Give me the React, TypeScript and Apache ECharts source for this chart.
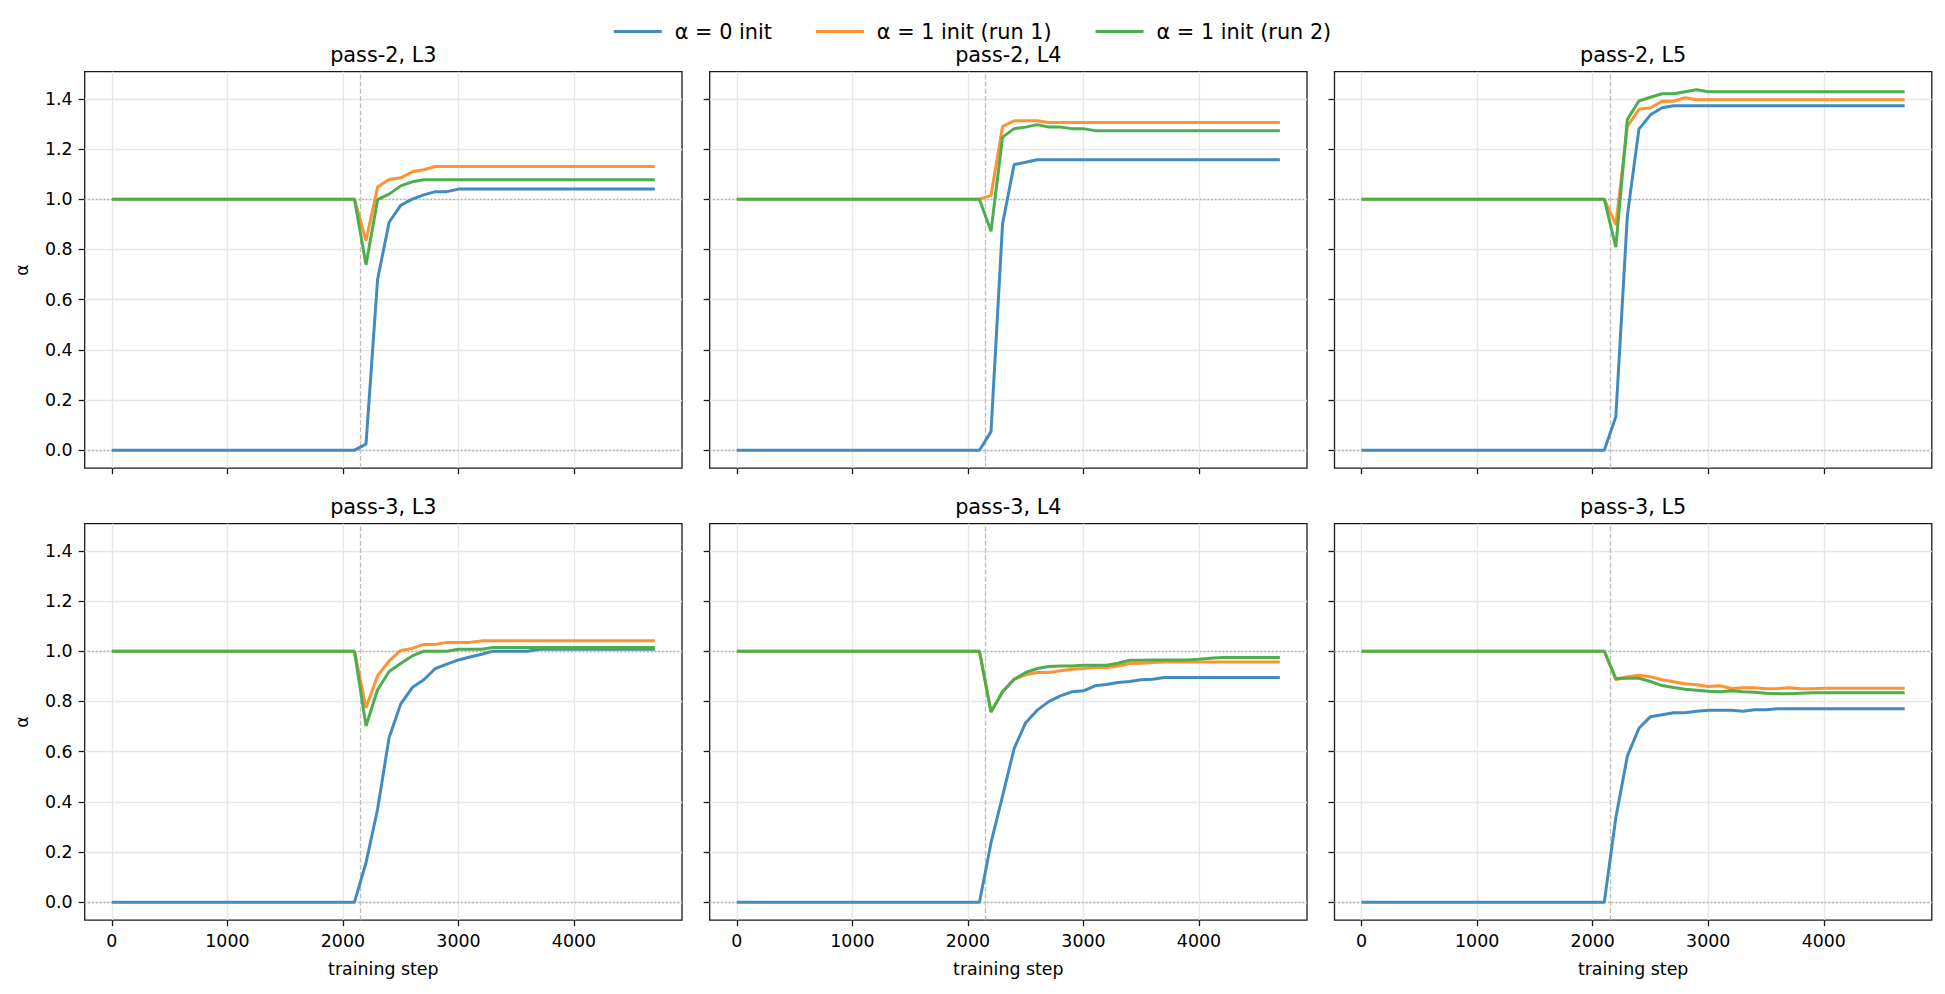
import React, { useEffect, useRef } from "react";
import * as echarts from "echarts";

// ---------------- data ----------------
const STEPS = [
  0, 100, 200, 300, 400, 500, 600, 700, 800, 900, 1000, 1100, 1200, 1300, 1400, 1500,
  1600, 1700, 1800, 1900, 2000, 2100, 2200, 2300, 2400, 2500, 2600, 2700, 2800, 2900,
  3000, 3100, 3200, 3300, 3400, 3500, 3600, 3700, 3800, 3900, 4000, 4100, 4200, 4300,
  4400, 4500, 4600, 4700,
];

const SERIES_NAMES = ["α = 0 init", "α = 1 init (run 1)", "α = 1 init (run 2)"];
const PANEL_TITLES = ["pass-2, L3", "pass-2, L4", "pass-2, L5", "pass-3, L3", "pass-3, L4", "pass-3, L5"];
const X_TICKS = [0, 1000, 2000, 3000, 4000];
const Y_TICKS = [0, 0.2, 0.4, 0.6, 0.8, 1.0, 1.2, 1.4];
const X_LABEL = "training step";
const Y_LABEL = "α";
const SWITCH_STEP = 2150;
const REF_LEVELS = [0, 1];

// pass-2, L3
const P2L3_A0 = [
  0, 0, 0, 0, 0, 0, 0, 0, 0, 0, 0, 0, 0, 0, 0, 0, 0, 0, 0, 0, 0, 0,
  0.024, 0.68, 0.908, 0.975, 1.0, 1.017, 1.03, 1.03, 1.04,
  1.04, 1.04, 1.04, 1.04, 1.04, 1.04, 1.04, 1.04, 1.04, 1.04, 1.04, 1.04, 1.04, 1.04, 1.04, 1.04, 1.04,
];
const P2L3_R1 = [
  1, 1, 1, 1, 1, 1, 1, 1, 1, 1, 1, 1, 1, 1, 1, 1, 1, 1, 1, 1, 1, 1,
  0.835, 1.048, 1.078, 1.085, 1.109, 1.117, 1.13,
  1.13, 1.13, 1.13, 1.13, 1.13, 1.13, 1.13, 1.13, 1.13, 1.13, 1.13, 1.13, 1.13, 1.13, 1.13, 1.13, 1.13, 1.13, 1.13,
];
const P2L3_R2 = [
  1, 1, 1, 1, 1, 1, 1, 1, 1, 1, 1, 1, 1, 1, 1, 1, 1, 1, 1, 1, 1, 1,
  0.739, 0.998, 1.02, 1.053, 1.069, 1.077,
  1.077, 1.077, 1.077, 1.077, 1.077, 1.077, 1.077, 1.077, 1.077, 1.077, 1.077, 1.077, 1.077, 1.077, 1.077, 1.077, 1.077, 1.077, 1.077, 1.077,
];

// pass-2, L4
const P2L4_A0 = [
  0, 0, 0, 0, 0, 0, 0, 0, 0, 0, 0, 0, 0, 0, 0, 0, 0, 0, 0, 0, 0, 0,
  0.074, 0.902, 1.138, 1.147, 1.157,
  1.157, 1.157, 1.157, 1.157, 1.157, 1.157, 1.157, 1.157, 1.157, 1.157, 1.157, 1.157, 1.157, 1.157, 1.157, 1.157, 1.157, 1.157, 1.157, 1.157, 1.157,
];
const P2L4_R1 = [
  1, 1, 1, 1, 1, 1, 1, 1, 1, 1, 1, 1, 1, 1, 1, 1, 1, 1, 1, 1, 1, 1,
  1.015, 1.29, 1.312, 1.312, 1.312, 1.305,
  1.305, 1.305, 1.305, 1.305, 1.305, 1.305, 1.305, 1.305, 1.305, 1.305, 1.305, 1.305, 1.305, 1.305, 1.305, 1.305, 1.305, 1.305, 1.305, 1.305,
];
const P2L4_R2 = [
  1, 1, 1, 1, 1, 1, 1, 1, 1, 1, 1, 1, 1, 1, 1, 1, 1, 1, 1, 1, 1, 1,
  0.872, 1.247, 1.281, 1.287, 1.297, 1.287, 1.287, 1.281, 1.281, 1.273,
  1.273, 1.273, 1.273, 1.273, 1.273, 1.273, 1.273, 1.273, 1.273, 1.273, 1.273, 1.273, 1.273, 1.273, 1.273, 1.273,
];

// pass-2, L5
const P2L5_A0 = [
  0, 0, 0, 0, 0, 0, 0, 0, 0, 0, 0, 0, 0, 0, 0, 0, 0, 0, 0, 0, 0, 0,
  0.133, 0.935, 1.279, 1.336, 1.364, 1.372,
  1.372, 1.372, 1.372, 1.372, 1.372, 1.372, 1.372, 1.372, 1.372, 1.372, 1.372, 1.372, 1.372, 1.372, 1.372, 1.372, 1.372, 1.372, 1.372, 1.372,
];
const P2L5_R1 = [
  1, 1, 1, 1, 1, 1, 1, 1, 1, 1, 1, 1, 1, 1, 1, 1, 1, 1, 1, 1, 1, 1,
  0.898, 1.29, 1.358, 1.364, 1.39, 1.39, 1.404, 1.396,
  1.396, 1.396, 1.396, 1.396, 1.396, 1.396, 1.396, 1.396, 1.396, 1.396, 1.396, 1.396, 1.396, 1.396, 1.396, 1.396, 1.396, 1.396,
];
const P2L5_R2 = [
  1, 1, 1, 1, 1, 1, 1, 1, 1, 1, 1, 1, 1, 1, 1, 1, 1, 1, 1, 1, 1, 1,
  0.809, 1.318, 1.391, 1.406, 1.42, 1.42, 1.428, 1.436, 1.428,
  1.428, 1.428, 1.428, 1.428, 1.428, 1.428, 1.428, 1.428, 1.428, 1.428, 1.428, 1.428, 1.428, 1.428, 1.428, 1.428, 1.428,
];

// pass-3, L3
const P3L3_A0 = [
  0, 0, 0, 0, 0, 0, 0, 0, 0, 0, 0, 0, 0, 0, 0, 0, 0, 0, 0, 0, 0, 0,
  0.157, 0.37, 0.656, 0.789, 0.855, 0.886, 0.931, 0.948, 0.965, 0.977, 0.988, 1.0, 1.0, 1.0, 1.0, 1.008,
  1.008, 1.008, 1.008, 1.008, 1.008, 1.008, 1.008, 1.008, 1.008, 1.008,
];
const P3L3_R1 = [
  1, 1, 1, 1, 1, 1, 1, 1, 1, 1, 1, 1, 1, 1, 1, 1, 1, 1, 1, 1, 1, 1,
  0.775, 0.902, 0.961, 1.003, 1.011, 1.027, 1.027, 1.035, 1.035, 1.035, 1.041,
  1.041, 1.041, 1.041, 1.041, 1.041, 1.041, 1.041, 1.041, 1.041, 1.041, 1.041, 1.041, 1.041, 1.041, 1.041,
];
const P3L3_R2 = [
  1, 1, 1, 1, 1, 1, 1, 1, 1, 1, 1, 1, 1, 1, 1, 1, 1, 1, 1, 1, 1, 1,
  0.702, 0.846, 0.919, 0.951, 0.981, 1.0, 1.0, 1.0, 1.008, 1.008, 1.008, 1.015,
  1.015, 1.015, 1.015, 1.015, 1.015, 1.015, 1.015, 1.015, 1.015, 1.015, 1.015, 1.015, 1.015, 1.015,
];

// pass-3, L4
const P3L4_A0 = [
  0, 0, 0, 0, 0, 0, 0, 0, 0, 0, 0, 0, 0, 0, 0, 0, 0, 0, 0, 0, 0, 0,
  0.237, 0.423, 0.612, 0.715, 0.765, 0.799, 0.822, 0.838, 0.842, 0.862, 0.867, 0.875, 0.879, 0.886, 0.888, 0.895,
  0.895, 0.895, 0.895, 0.895, 0.895, 0.895, 0.895, 0.895, 0.895, 0.895,
];
const P3L4_R1 = [
  1, 1, 1, 1, 1, 1, 1, 1, 1, 1, 1, 1, 1, 1, 1, 1, 1, 1, 1, 1, 1, 1,
  0.758, 0.838, 0.888, 0.906, 0.915, 0.915, 0.922, 0.928, 0.931, 0.935, 0.935, 0.941, 0.951, 0.952, 0.955, 0.957,
  0.957, 0.957, 0.957, 0.957, 0.957, 0.957, 0.957, 0.957, 0.957, 0.957,
];
const P3L4_R2 = [
  1, 1, 1, 1, 1, 1, 1, 1, 1, 1, 1, 1, 1, 1, 1, 1, 1, 1, 1, 1, 1, 1,
  0.758, 0.838, 0.888, 0.915, 0.931, 0.939, 0.941, 0.941, 0.944, 0.944, 0.944, 0.952, 0.964, 0.964, 0.965, 0.965,
  0.965, 0.965, 0.968, 0.972, 0.975,
  0.975, 0.975, 0.975, 0.975, 0.975,
];

// pass-3, L5
const P3L5_A0 = [
  0, 0, 0, 0, 0, 0, 0, 0, 0, 0, 0, 0, 0, 0, 0, 0, 0, 0, 0, 0, 0, 0,
  0.336, 0.582, 0.693, 0.739, 0.747, 0.755, 0.755, 0.761, 0.765, 0.765, 0.765, 0.761, 0.767, 0.767, 0.771,
  0.771, 0.771, 0.771, 0.771, 0.771, 0.771, 0.771, 0.771, 0.771, 0.771, 0.771,
];
const P3L5_R1 = [
  1, 1, 1, 1, 1, 1, 1, 1, 1, 1, 1, 1, 1, 1, 1, 1, 1, 1, 1, 1, 1, 1,
  0.886, 0.898, 0.904, 0.898, 0.886, 0.878, 0.87, 0.866, 0.859, 0.862, 0.851, 0.854, 0.854, 0.85, 0.851, 0.854,
  0.85, 0.85, 0.852,
  0.852, 0.852, 0.852, 0.852, 0.852, 0.852, 0.852,
];
const P3L5_R2 = [
  1, 1, 1, 1, 1, 1, 1, 1, 1, 1, 1, 1, 1, 1, 1, 1, 1, 1, 1, 1, 1, 1,
  0.891, 0.892, 0.892, 0.879, 0.863, 0.855, 0.848, 0.844, 0.84, 0.838, 0.842, 0.838, 0.836, 0.832, 0.83, 0.83,
  0.832, 0.834,
  0.834, 0.834, 0.834, 0.834, 0.834, 0.834, 0.834, 0.834,
];

const PANEL_DATA = [
  [P2L3_A0, P2L3_R1, P2L3_R2],
  [P2L4_A0, P2L4_R1, P2L4_R2],
  [P2L5_A0, P2L5_R1, P2L5_R2],
  [P3L3_A0, P3L3_R1, P3L3_R2],
  [P3L4_A0, P3L4_R1, P3L4_R2],
  [P3L5_A0, P3L5_R1, P3L5_R2],
];

// ---------------- style / layout ----------------
const SERIES_COLORS = ["#418bbf", "#ff9232", "#4cae4c"];
const FONT = '"DejaVu Sans", "Liberation Sans", sans-serif';
const COL_LEFT = [84.7, 709.7, 1334.5];
const ROW_TOP = [71.7, 523.7];
const PANEL_W = 597.3;
const PANEL_H = 396.5;
const X_MIN = -235;
const X_MAX = 4935;
const Y_MIN = -0.0718;
const Y_MAX = 1.5078;
const AXIS_COLOR = "#1a1a1a";
const GRID_COLOR = "#e6e6e6";

export default function App() {
  const ref = useRef<HTMLDivElement>(null);

  useEffect(() => {
    if (!ref.current) return;
    const chart = echarts.init(ref.current, null, { renderer: "svg" });

    const grids: any[] = [];
    const xAxes: any[] = [];
    const yAxes: any[] = [];
    const series: any[] = [];
    const graphics: any[] = [];

    PANEL_DATA.forEach((panel, p) => {
      const row = Math.floor(p / 3);
      const col = p % 3;
      const left = COL_LEFT[col];
      const top = ROW_TOP[row];
      grids.push({
        left,
        top,
        width: PANEL_W,
        height: PANEL_H,
        show: true,
        borderColor: AXIS_COLOR,
        borderWidth: 1.3,
        backgroundColor: "rgba(0,0,0,0)",
        containLabel: false,
      });
      xAxes.push({
        type: "value",
        gridIndex: p,
        min: X_MIN,
        max: X_MAX,
        axisLine: { show: false, onZero: false },
        axisTick: {
          show: true,
          customValues: X_TICKS,
          length: 6,
          lineStyle: { color: AXIS_COLOR, width: 1.3 },
        },
        axisLabel: {
          show: row === 1,
          customValues: X_TICKS,
          margin: 12,
          color: "#000",
          fontSize: 17.4,
          fontFamily: FONT,
          formatter: (v: number) => String(v),
        },
        splitLine: { show: true, lineStyle: { color: GRID_COLOR, width: 1.3 } },
        name: row === 1 ? X_LABEL : "",
        nameLocation: "middle",
        nameGap: 40,
        nameTextStyle: { color: "#000", fontSize: 17.4, fontFamily: FONT },
      });
      yAxes.push({
        type: "value",
        gridIndex: p,
        min: Y_MIN,
        max: Y_MAX,
        axisLine: { show: false, onZero: false },
        axisTick: {
          show: true,
          customValues: Y_TICKS,
          length: 6,
          lineStyle: { color: AXIS_COLOR, width: 1.3 },
        },
        axisLabel: {
          show: col === 0,
          customValues: Y_TICKS,
          margin: 12,
          color: "#000",
          fontSize: 17.4,
          fontFamily: FONT,
          formatter: (v: number) => v.toFixed(1),
        },
        splitLine: { show: true, lineStyle: { color: GRID_COLOR, width: 1.3 } },
        name: col === 0 ? Y_LABEL : "",
        nameLocation: "middle",
        nameGap: 54,
        nameTextStyle: { color: "#000", fontSize: 17.4, fontFamily: FONT },
      });

      panel.forEach((vals, s) => {
        const item: any = {
          type: "line",
          name: SERIES_NAMES[s],
          xAxisIndex: p,
          yAxisIndex: p,
          data: STEPS.map((x, i) => [x, vals[i]]),
          symbol: "none",
          showSymbol: false,
          z: 3,
          color: SERIES_COLORS[s],
          lineStyle: { color: SERIES_COLORS[s], width: 3 },
          emphasis: { disabled: true },
        };
        if (s === 0) {
          item.markLine = {
            silent: true,
            symbol: ["none", "none"],
            z: 1,
            label: { show: false },
            animation: false,
            emphasis: { disabled: true },
            data: [
              {
                xAxis: SWITCH_STEP,
                lineStyle: { type: [5, 2.2], color: "#bdbdbd", width: 1.3 },
              },
              ...REF_LEVELS.map((lv) => ({
                yAxis: lv,
                lineStyle: { type: [1.5, 2.3], color: "#aaaaaa", width: 1.4 },
              })),
            ],
          };
        }
        series.push(item);
      });

      graphics.push({
        type: "text",
        x: left + PANEL_W / 2,
        y: top - 17,
        style: {
          text: PANEL_TITLES[p],
          textAlign: "center",
          textVerticalAlign: "middle",
          fontSize: 20.8,
          fontFamily: FONT,
          fill: "#000",
        },
      });
    });

    chart.setOption({
      animation: false,
      backgroundColor: "#fff",
      grid: grids,
      xAxis: xAxes,
      yAxis: yAxes,
      series,
      graphic: graphics,
      legend: {
        data: SERIES_NAMES,
        left: "center",
        top: 16,
        icon: "rect",
        itemWidth: 48,
        itemHeight: 3,
        itemGap: 44,
        textStyle: { color: "#000", fontSize: 20.8, fontFamily: FONT, padding: [0, 0, 0, 8] },
      },
    });

    return () => chart.dispose();
  }, []);

  return (
    <div
      ref={ref}
      style={{ position: "fixed", left: 0, top: 0, width: 1945, height: 994, background: "#fff" }}
    />
  );
}
